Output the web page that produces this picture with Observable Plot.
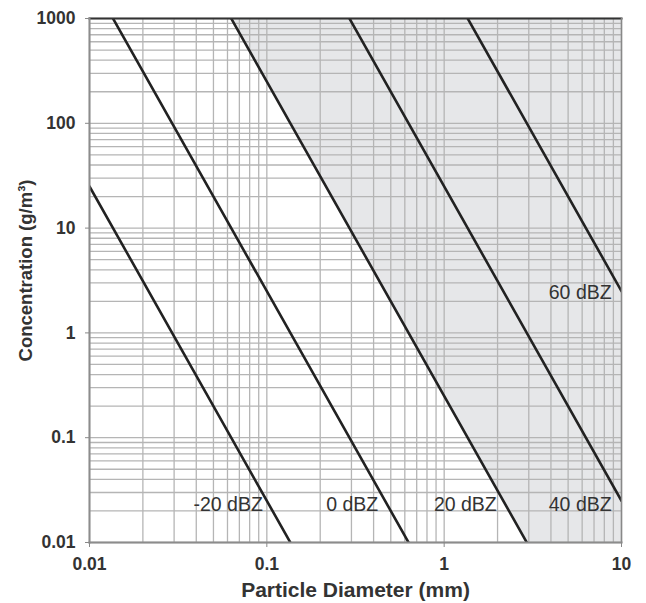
<!DOCTYPE html>
<html>
<head>
<meta charset="utf-8">
<script src="https://cdn.jsdelivr.net/npm/d3@7"></script>
<script src="https://cdn.jsdelivr.net/npm/@observablehq/plot@0.6"></script>
<style>
  html, body { margin: 0; padding: 0; background: #fff; }
  #chart svg { display: block; }
</style>
</head>
<body>
<div id="chart"></div>
<script>
// --- data ---
const dbzLevels = [-20, 0, 20, 40, 60];
const dbzNames = ["-20 dBZ", "0 dBZ", "20 dBZ", "40 dBZ", "60 dBZ"];
// concentration where each line meets D = 0.01 mm and D = 10 mm (read/extrapolated)
const concAtLeft = [25, 2500, 250000, 25000000, 2500000000];
const concAtRight = [2.5e-8, 2.5e-6, 2.5e-4, 0.025, 2.5];
const diamEnds = [0.01, 10];
// label positions (end of text)
const labelX = [0.095, 0.425, 1.98, 8.8, 8.8];
const labelY = [0.023, 0.023, 0.023, 0.023, 2.4];
// shaded zone: above the 20 dBZ line
const shadeLevel = 20;
const xTicks = [0.01, 0.1, 1, 10];
const yTicks = [0.01, 0.1, 1, 10, 100, 1000];
const xDomain = [0.01, 10];
const yDomain = [0.01, 1000];

const lineRows = [];
dbzLevels.forEach((lv, i) => {
  lineRows.push({level: lv, d: diamEnds[0], c: concAtLeft[i]});
  lineRows.push({level: lv, d: diamEnds[1], c: concAtRight[i]});
});
const si = dbzLevels.indexOf(shadeLevel);
const shadeRows = [
  {d: diamEnds[0], c1: concAtLeft[si], c2: 1e9},
  {d: diamEnds[1], c1: concAtRight[si], c2: 1e9}
];
const labels = dbzNames.map((t, i) => ({t, x: labelX[i], y: labelY[i]}));
const xGrid = d3.scaleLog().domain(xDomain).ticks();
const yGrid = d3.scaleLog().domain(yDomain).ticks();

const font = "Liberation Sans, Arial, Helvetica, sans-serif";
const chart = Plot.plot({
  width: 646,
  height: 603,
  marginLeft: 89,
  marginRight: 25,
  marginTop: 18,
  marginBottom: 61,
  style: {fontFamily: font, background: "#fff"},
  x: {type: "log", domain: xDomain},
  y: {type: "log", domain: yDomain},
  marks: [
    Plot.areaY(shadeRows, {x: "d", y1: "c1", y2: "c2", fill: "#e6e7e9", clip: true}),
    Plot.ruleX(xGrid, {stroke: "#b5b5b5", strokeWidth: 1.3}),
    Plot.ruleY(yGrid, {stroke: "#b5b5b5", strokeWidth: 1.3}),
    Plot.line(lineRows, {x: "d", y: "c", z: "level", stroke: "#222", strokeWidth: 2.6, clip: true}),
    Plot.text(labels, {x: "x", y: "y", text: "t", textAnchor: "end", fill: "#333", fontSize: 19.5}),
    Plot.frame({anchor: "top", stroke: "#333", strokeWidth: 2}),
    Plot.frame({anchor: "right", stroke: "#888", strokeWidth: 1.5}),
    Plot.frame({anchor: "left", stroke: "#8c8c8c", strokeWidth: 2}),
    Plot.frame({anchor: "bottom", stroke: "#8c8c8c", strokeWidth: 2}),
    Plot.axisX({ticks: xTicks, tickFormat: d => String(d), tickSize: 5, tickPadding: 10,
      stroke: "#888", fill: "#333", fontSize: 17.5, fontWeight: "bold", label: null}),
    Plot.axisY({ticks: yTicks, tickFormat: d => String(d), tickSize: 4, tickPadding: 10,
      stroke: "#888", fill: "#333", fontSize: 17.5, fontWeight: "bold", label: null}),
    Plot.text(["Particle Diameter (mm)"], {frameAnchor: "bottom", dy: 48, text: d => d,
      textAnchor: "middle", lineAnchor: "middle", fontSize: 21, fontWeight: "bold", fill: "#333"}),
    Plot.text(["Concentration (g/m³)"], {frameAnchor: "left", dx: -63, dy: -10, rotate: -90, text: d => d,
      textAnchor: "middle", fontSize: 18.5, fontWeight: "bold", fill: "#333"})
  ]
});
document.getElementById("chart").appendChild(chart);
</script>
</body>
</html>
